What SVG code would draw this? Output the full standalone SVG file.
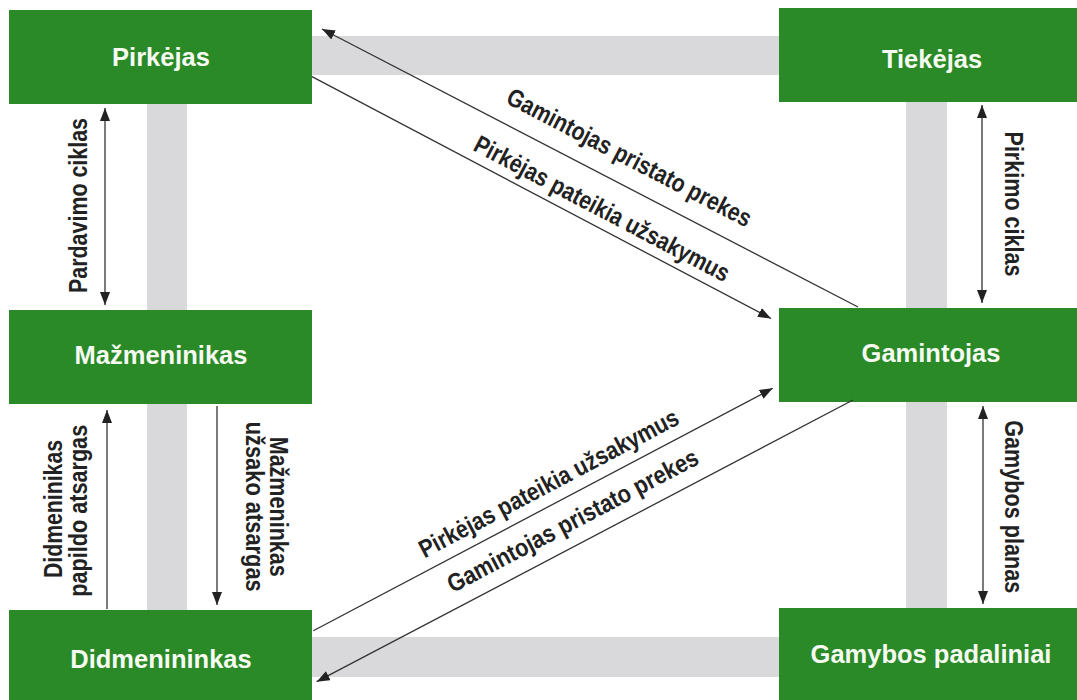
<svg xmlns="http://www.w3.org/2000/svg" width="1077" height="700" viewBox="0 0 1077 700">
<defs>
<style>
.box{fill:#2a8a27}
.bar{fill:#d9d9dc}
.bt{font-family:"Liberation Sans",Arial,sans-serif;font-weight:bold;font-size:25.5px;fill:#f6faf2;text-anchor:middle}
.lt{font-family:"Liberation Sans",Arial,sans-serif;font-weight:bold;font-size:25px;fill:#222;text-anchor:middle}
.ln{stroke:#333;stroke-width:1.3;fill:none}
</style>
<marker id="ah" markerUnits="userSpaceOnUse" markerWidth="14" markerHeight="11" refX="13" refY="5" orient="auto-start-reverse" viewBox="0 0 14 11">
<path d="M0,0 L13,5 L0,10 z" fill="#222"/>
</marker>
</defs>
<rect width="1077" height="700" fill="#fff"/>
<g id="bars">
<rect class="bar" x="312" y="36" width="467" height="39"/>
<rect class="bar" x="147" y="104" width="40" height="506"/>
<rect class="bar" x="906" y="102" width="41" height="506"/>
<rect class="bar" x="312" y="637" width="467" height="40"/>
</g>
<g id="pirkejas"><rect class="box" x="9" y="10" width="303" height="94"/><text class="bt" x="161" y="66">Pirkėjas</text></g>
<g id="tiekejas"><rect class="box" x="779" y="8" width="298" height="94"/><text class="bt" x="932" y="68">Tiekėjas</text></g>
<g id="mazmeninikas"><rect class="box" x="9" y="310" width="303" height="94"/><text class="bt" x="161" y="364">Mažmeninikas</text></g>
<g id="gamintojas"><rect class="box" x="779" y="308" width="298" height="94"/><text class="bt" x="931" y="362">Gamintojas</text></g>
<g id="didmenininkas"><rect class="box" x="9" y="610" width="303" height="90"/><text class="bt" x="161" y="668">Didmenininkas</text></g>
<g id="gamybos"><rect class="box" x="779" y="608" width="298" height="92"/><text class="bt" x="931" y="663">Gamybos padaliniai</text></g>
<g id="connectors">
<line class="ln" x1="858" y1="307" x2="322" y2="29" marker-end="url(#ah)"/>
<line class="ln" x1="312" y1="76.7" x2="771" y2="318.5" marker-end="url(#ah)"/>
<line class="ln" x1="313.3" y1="630.7" x2="772.7" y2="388.3" marker-end="url(#ah)"/>
<line class="ln" x1="853" y1="400" x2="316.7" y2="681.7" marker-end="url(#ah)"/>
<line class="ln" x1="105" y1="108" x2="105" y2="305" marker-start="url(#ah)" marker-end="url(#ah)"/>
<line class="ln" x1="982" y1="105" x2="982" y2="303" marker-start="url(#ah)" marker-end="url(#ah)"/>
<line class="ln" x1="107" y1="609" x2="107" y2="410" marker-end="url(#ah)"/>
<line class="ln" x1="217" y1="406" x2="217" y2="605" marker-end="url(#ah)"/>
<line class="ln" x1="983" y1="406" x2="983" y2="604" marker-start="url(#ah)" marker-end="url(#ah)"/>
<text class="lt" transform="translate(616.7,181.9) rotate(27.41)" y="-19" textLength="272" lengthAdjust="spacingAndGlyphs">Gamintojas pristato prekes</text>
<text class="lt" transform="translate(593.3,225) rotate(27.78)" y="-10" textLength="285" lengthAdjust="spacingAndGlyphs">Pirkėjas pateikia užsakymus</text>
<text class="lt" transform="translate(558.3,501.4) rotate(-27.82)" y="-12" textLength="290" lengthAdjust="spacingAndGlyphs">Pirkėjas pateikia užsakymus</text>
<text class="lt" transform="translate(583.6,541.5) rotate(-27.71)" y="-15" textLength="280" lengthAdjust="spacingAndGlyphs">Gamintojas pristato prekes</text>
<text class="lt" transform="translate(87,205.5) rotate(-90)" textLength="175" lengthAdjust="spacingAndGlyphs">Pardavimo ciklas</text>
<text class="lt" transform="translate(1005,204) rotate(90)" textLength="145" lengthAdjust="spacingAndGlyphs">Pirkimo ciklas</text>
<text class="lt" transform="translate(62,509) rotate(-90)" textLength="138" lengthAdjust="spacingAndGlyphs">Didmeninikas</text>
<text class="lt" transform="translate(86.5,510.8) rotate(-90)" textLength="172" lengthAdjust="spacingAndGlyphs">papildo atsargas</text>
<text class="lt" transform="translate(270,506.7) rotate(90)" textLength="140" lengthAdjust="spacingAndGlyphs">Mažmeninkas</text>
<text class="lt" transform="translate(246,506.7) rotate(90)" textLength="170" lengthAdjust="spacingAndGlyphs">užsako atsargas</text>
<text class="lt" transform="translate(1005,506.7) rotate(90)" textLength="173" lengthAdjust="spacingAndGlyphs">Gamybos planas</text>
</g>
</svg>
